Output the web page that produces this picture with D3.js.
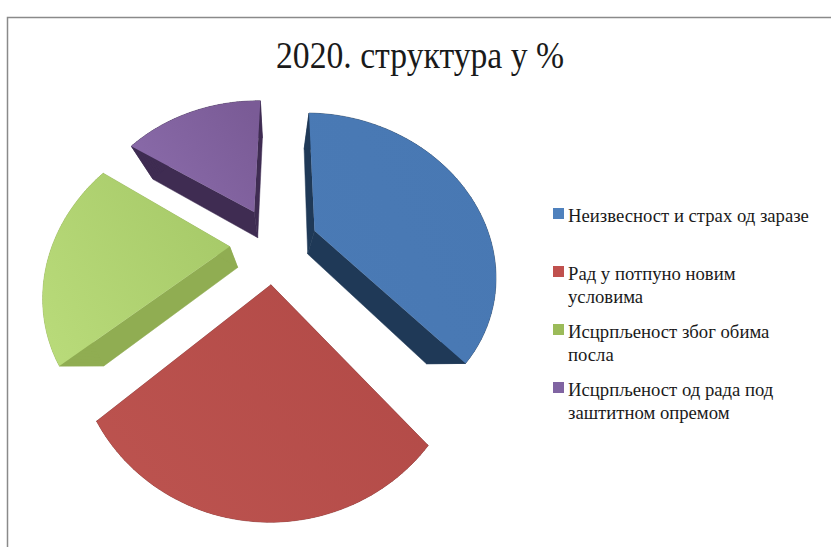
<!DOCTYPE html>
<html>
<head>
<meta charset="utf-8">
<script src="https://cdnjs.cloudflare.com/ajax/libs/d3/7.8.5/d3.min.js"></script>
<style>
  html, body { margin: 0; padding: 0; background: #fff; }
  svg { display: block; }
  text { font-family: "Liberation Serif", serif; fill: #1a1a1a; }
</style>
</head>
<body>
<svg id="chart"></svg>
<script>
const title = "2020. структура у %";
const categories = [
  ["Неизвесност и страх од заразе"],
  ["Рад у потпуно новим", "условима"],
  ["Исцрпљеност због обима", "посла"],
  ["Исцрпљеност од рада под", "заштитном опремом"],
];
const values = [38, 25.5, 20.3, 16.2];

const swatchColors = ["#4f81bd", "#c0504d", "#9bbb59", "#8064a2"];
const sideColors = ["#1f3957", "#7f2f2c", "#90ad52", "#3f2c52"];
const faceLight = ["#4a7ab5", "#bc534f", "#b8da79", "#8b6cab"];
const faceDark = ["#4878b3", "#b24a47", "#a6c968", "#7a5b96"];

const width = 831;
const height = 547;

const svg = d3.select("#chart").attr("width", width).attr("height", height);

// chart frame, only top and left are inside the crop
svg.append("path")
  .attr("d", `M7.5,${height}V17.5H${width}`)
  .attr("fill", "none")
  .attr("stroke", "#8a8a8a")
  .attr("stroke-width", 1.5);

svg.append("text")
  .attr("x", 420)
  .attr("y", 68)
  .attr("text-anchor", "middle")
  .attr("textLength", 288)
  .attr("lengthAdjust", "spacingAndGlyphs")
  .style("font-size", "37px")
  .text(title);

// tilted pie: perspective projection of the pie plane
const cx = 274;
const cy = 244;
const radius = 177;
const tilt = 0.865;
const persp = 0.25;
const explode = 0.25;
const vanish = [275, 365]; // the extruded edges converge here

// edges lower on the page are extruded a bit further
const depth = d3.scaleLinear().domain([100, 364]).range([0.14, 0.206]);

const project = (u, v) => [
  cx + (radius * u) / (1 + persp * v),
  cy - (radius * tilt * v) / (1 + persp * v),
];

const startDeg = 1;
const pie = d3.pie().sort(null)
  .startAngle((startDeg * Math.PI) / 180)
  .endAngle(((startDeg + 360) * Math.PI) / 180);

const slices = pie(values);
const line = d3.line();
const defs = svg.append("defs");

const outline = (d) => {
  const mid = (d.startAngle + d.endAngle) / 2;
  const ox = explode * Math.sin(mid);
  const oy = explode * Math.cos(mid);
  const angle = d3.scaleLinear().domain([0, 60]).range([d.startAngle, d.endAngle]);
  const rim = d3.range(0, 61).map((i) =>
    project(ox + Math.sin(angle(i)), oy + Math.cos(angle(i)))
  );
  return [project(ox, oy), ...rim];
};

const sink = (p) => [
  p[0] + depth(p[1]) * (vanish[0] - p[0]),
  p[1] + depth(p[1]) * (vanish[1] - p[1]),
];

const g = svg.selectAll(".slice").data(slices).join("g").attr("class", "slice");

g.each(function (d, i) {
  const top = outline(d);
  const bottom = top.map(sink);
  const sel = d3.select(this);

  // side walls
  top.forEach((p, j) => {
    const n = (j + 1) % top.length;
    sel.append("path")
      .attr("d", line([p, top[n], bottom[n], bottom[j]]) + "Z")
      .attr("fill", sideColors[i])
      .attr("stroke", sideColors[i])
      .attr("stroke-width", 0.5);
  });

  const grad = defs.append("linearGradient")
    .attr("id", `face${i}`)
    .attr("x1", "0").attr("y1", "0.8")
    .attr("x2", "1").attr("y2", "0.2");
  grad.append("stop").attr("offset", "0").attr("stop-color", faceLight[i]);
  grad.append("stop").attr("offset", "1").attr("stop-color", faceDark[i]);

  sel.append("path")
    .attr("d", line(top) + "Z")
    .attr("fill", `url(#face${i})`);
});

// legend
const legendX = 553;
const legendRows = [222, 280, 338, 396];
const lineStep = 23;

const legend = svg.selectAll(".legend").data(categories).join("g").attr("class", "legend");

legend.append("rect")
  .attr("x", legendX)
  .attr("y", (d, i) => legendRows[i] - 14)
  .attr("width", 11)
  .attr("height", 11)
  .attr("fill", (d, i) => swatchColors[i]);

legend.each(function (d, i) {
  d3.select(this).selectAll("text").data(d).join("text")
    .attr("x", legendX + 15)
    .attr("y", (t, j) => legendRows[i] + j * lineStep)
    .style("font-size", "18.7px")
    .text((t) => t);
});
</script>
</body>
</html>
